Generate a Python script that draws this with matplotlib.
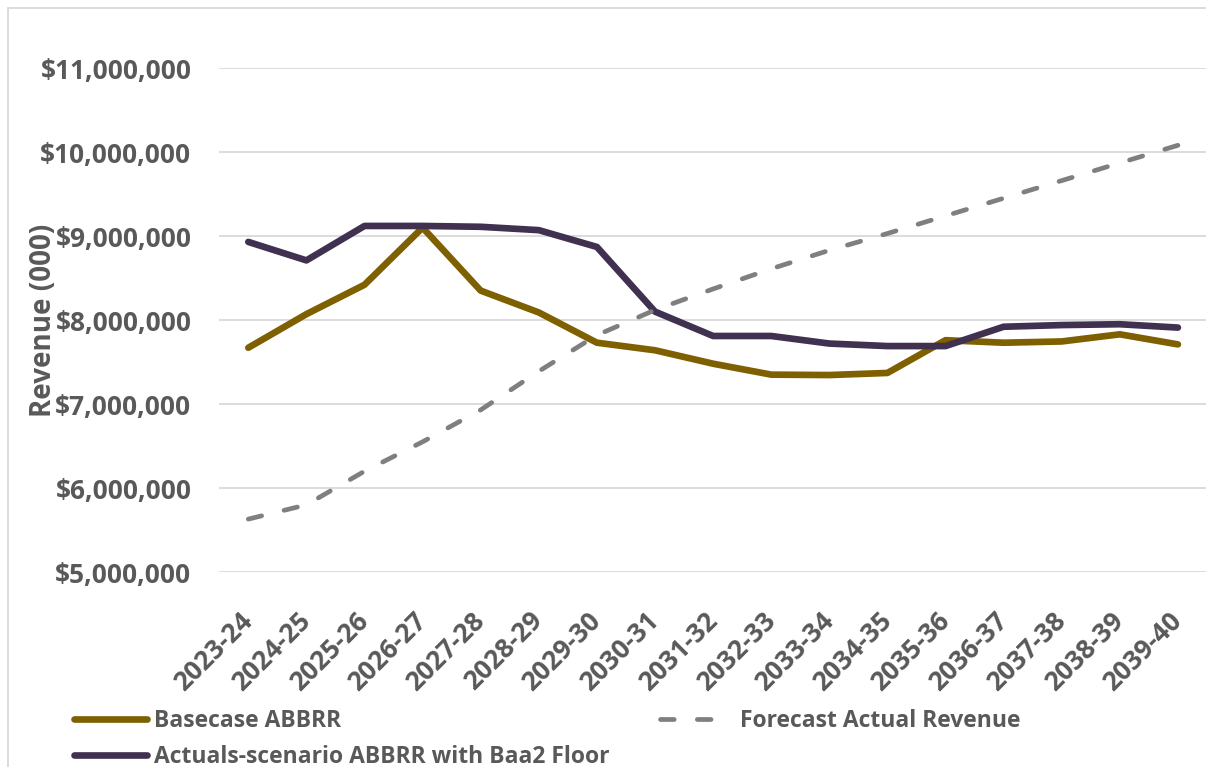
import matplotlib
matplotlib.use('Agg')
import matplotlib.pyplot as plt
import numpy as np
from matplotlib.patches import Rectangle
from matplotlib.ticker import FuncFormatter

config = {
    "font.family": ['Open Sans', 'DejaVu Sans'],
    "font.size": 19,
    "font.weight": 'bold',
}
plt.rcParams.update(config)

# fiscal years
years = ['2023-24', '2024-25', '2025-26', '2026-27', '2027-28', '2028-29',
         '2029-30', '2030-31', '2031-32', '2032-33', '2033-34', '2034-35',
         '2035-36', '2036-37', '2037-38', '2038-39', '2039-40']

# revenue in $
basecase = [7.67e6, 8.07e6, 8.42e6, 9.10e6, 8.35e6, 8.09e6, 7.73e6, 7.64e6,
            7.48e6, 7.35e6, 7.345e6, 7.37e6, 7.76e6, 7.73e6, 7.745e6, 7.83e6, 7.71e6]
actuals_baa2 = [8.93e6, 8.71e6, 9.12e6, 9.12e6, 9.11e6, 9.07e6, 8.87e6, 8.10e6,
                7.81e6, 7.81e6, 7.72e6, 7.69e6, 7.69e6, 7.92e6, 7.94e6, 7.95e6, 7.91e6]
forecast = [5.63e6, 5.80e6, 6.20e6, 6.55e6, 6.93e6, 7.39e6, 7.82e6, 8.12e6,
            8.37e6, 8.61e6, 8.83e6, 9.03e6, 9.24e6, 9.45e6, 9.66e6, 9.87e6, 10.08e6]

text_color = '#595959'
grid_color = '#D9D9D9'

x = np.arange(len(years))

fig = plt.figure(figsize=(12.06, 7.67), dpi=100)
ax = fig.add_axes([0.1818, 0.2542, 0.819, 0.6571])

ax.plot(x, basecase, color='#7F6000', lw=4.8, solid_capstyle='round',
        solid_joinstyle='round', label='Basecase ABBRR', zorder=3)
ax.plot(x, actuals_baa2, color='#403151', lw=4.8, solid_capstyle='round',
        solid_joinstyle='round', label='Actuals-scenario ABBRR with Baa2 Floor', zorder=4)
ax.plot(x, forecast, color='#7F7F7F', lw=3.4, dashes=(2.9, 4.9),
        dash_capstyle='round', label='Forecast Actual Revenue', zorder=5)

ax.set_xlim(-0.5, len(years) - 0.5)
ax.set_ylim(5e6, 11e6)
ax.set_yticks(np.arange(5e6, 11.5e6, 1e6))
ax.yaxis.set_major_formatter(FuncFormatter(lambda v, p: '${:,.0f}'.format(v)))
ax.set_xticks(x)
ax.set_xticklabels(years, rotation=45, ha='right', va='center', rotation_mode='anchor')

ax.tick_params(axis='y', length=0, pad=20, colors=text_color, labelsize=19)
ax.tick_params(axis='x', length=0, pad=32, colors=text_color, labelsize=19)
ax.grid(True, axis='y', color=grid_color, lw=1.3)
ax.set_axisbelow(True)
for s in ax.spines.values():
    s.set_visible(False)

ax.set_ylabel('Revenue (000)', color=text_color, fontsize=20, fontweight='bold')
ax.yaxis.set_label_coords(-0.163, 0.5)

# legend: two columns below the plot
leg = fig.legend(loc='upper left', bbox_to_anchor=(0.061, 0.076), ncol=2,
                 frameon=False, fontsize=16.5, handlelength=3.2, handletextpad=0.3,
                 columnspacing=2.2, labelspacing=0.55, borderaxespad=0, borderpad=0)
for t in leg.get_texts():
    t.set_color(text_color)

# chart area border
fig.patches.append(Rectangle((7.5 / 1206, -0.1), 1.2, 1.1 - 8 / 767,
                             transform=fig.transFigure, fill=False,
                             edgecolor=grid_color, lw=1.3))

fig.savefig('out.png', dpi=100)
